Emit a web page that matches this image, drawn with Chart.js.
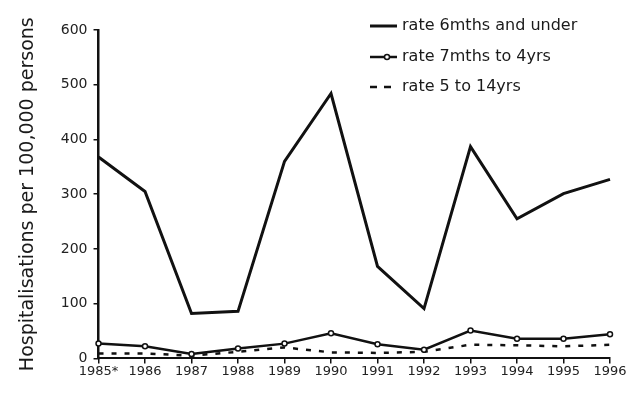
<!DOCTYPE html>
<html><head><meta charset="utf-8">
<script src="https://cdn.jsdelivr.net/npm/chart.js@4/dist/chart.umd.min.js"></script>
<style>html,body{margin:0;padding:0;background:#fff;}#wrap{width:635px;height:405px;}</style>
</head><body><div id="wrap"><canvas id="c" width="635" height="405"></canvas></div>
<script>
const years = ["1985*","1986","1987","1988","1989","1990","1991","1992","1993","1994","1995","1996"];
const rateUnder6m = [368,305,82,86,360,484,168,91,387,255,301,327];
const rate7mTo4y = [27,22,8,18,27,46,26,16,51,36,36,44];
const rate5To14y = [9,9,5,12,20,11,10,12,25,24,22,25];
const yTicks = [0,100,200,300,400,500,600];
const FONT = '"DejaVu Sans", "Liberation Sans", Arial, sans-serif';

const legendPlugin = {
  id:'customLegend',
  afterDraw(chart){
    const ctx = chart.ctx;
    const items = chart.data.datasets;
    const x0 = 370, ys = [26,57,87];
    ctx.save();
    items.forEach((ds,i)=>{
      const y = ys[i];
      ctx.strokeStyle = '#111';
      ctx.lineWidth = ds.borderWidth;
      const dashed = !!ds.borderDash;
      ctx.setLineDash(dashed ? [7,7] : []);
      ctx.beginPath();
      ctx.moveTo(x0, y); ctx.lineTo(x0 + (dashed ? 21 : 27), y);
      ctx.stroke();
      ctx.setLineDash([]);
      if (ds.pointRadius > 0) {
        ctx.beginPath();
        ctx.fillStyle = '#fff';
        ctx.lineWidth = 1.5;
        ctx.arc(x0+17, y, 2.5, 0, Math.PI*2);
        ctx.fill(); ctx.stroke();
      }
      ctx.fillStyle = '#1a1a1a';
      ctx.font = '16px ' + FONT;
      ctx.textBaseline = 'middle';
      ctx.fillText(ds.label, x0+32, y);
    });
    ctx.restore();
  }
};

new Chart(document.getElementById('c'), {
  type:'line',
  data:{
    labels: years,
    datasets:[
      {label:'rate 6mths and under', data: rateUnder6m, borderColor:'#111', borderWidth:3, pointRadius:0, tension:0, fill:false},
      {label:'rate 7mths to 4yrs', data: rate7mTo4y, borderColor:'#111', borderWidth:2.5, pointRadius:2.5, pointBorderWidth:1.5, pointBackgroundColor:'#fff', pointBorderColor:'#111', tension:0, fill:false},
      {label:'rate 5 to 14yrs', data: rate5To14y, borderColor:'#111', borderWidth:2.5, borderDash:[5,8], pointRadius:0, tension:0, fill:false}
    ]
  },
  options:{
    responsive:false,
    animation:false,
    layout:{padding:{left:17, right:25, top:30, bottom:26}},
    plugins:{legend:{display:false}, tooltip:{enabled:false}},
    scales:{
      x:{
        offset:false,
        grid:{drawOnChartArea:false, drawTicks:true, tickLength:5, color:'#111', lineWidth:1.5},
        border:{display:true, color:'#111', width:2},
        ticks:{color:'#222', font:{family:FONT, size:13}, maxRotation:0, autoSkip:false, padding:0}
      },
      y:{
        min:0, max:600,
        afterBuildTicks(axis){ axis.ticks = yTicks.map(v=>({value:v})); },
        grid:{drawOnChartArea:false, drawTicks:true, tickLength:5, color:'#111', lineWidth:1.5},
        border:{display:true, color:'#111', width:2.5},
        ticks:{color:'#222', font:{family:FONT, size:14}, padding:6},
        title:{display:true, text:'Hospitalisations per 100,000 persons', color:'#1a1a1a', font:{family:FONT, size:19}, padding:{top:0,bottom:15}}
      }
    }
  },
  plugins:[legendPlugin]
});
</script></body></html>
